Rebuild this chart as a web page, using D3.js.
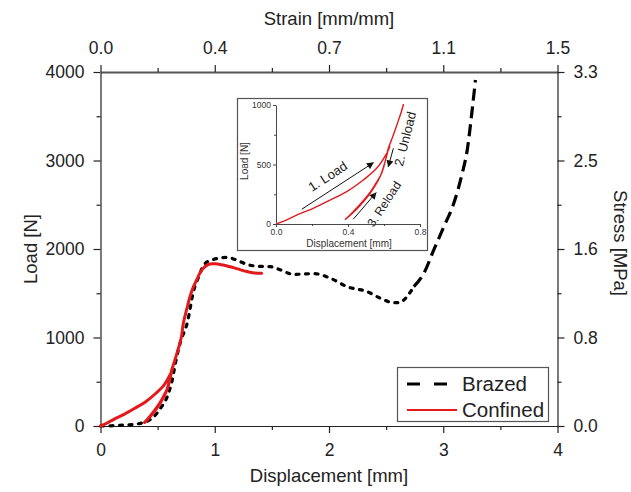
<!DOCTYPE html>
<html>
<head>
<meta charset="utf-8">
<script src="https://cdn.jsdelivr.net/npm/d3@7"></script>
<style>
  html, body { margin: 0; padding: 0; background: #fff; }
  svg { display: block; font-family: "Liberation Sans", Arial, sans-serif; }
</style>
</head>
<body>
<svg id="chart" width="631" height="492"></svg>
<script>
// ---------------- DATA ----------------
const dispTicks = [0, 1, 2, 3, 4];
const dispMinor = [0.5, 1.5, 2.5, 3.5];
const loadTicks = [0, 1000, 2000, 3000, 4000];
const loadMinor = [500, 1500, 2500, 3500];
const strainLabels = ["0.0", "0.4", "0.7", "1.1", "1.5"];
const stressLabels = ["0.0", "0.8", "1.6", "2.5", "3.3"];

// Brazed: [displacement mm, load N]
const brazed = [
  [0,0],[0.1,3],[0.2,10],[0.3,20],[0.35,30],[0.41,55],[0.467,105],[0.525,200],
  [0.584,331],[0.628,520],[0.656,712],[0.70,950],[0.759,1164],[0.817,1537],
  [0.86,1687],[0.904,1819],[0.96,1870],[0.989,1882],[1.05,1900],[1.109,1906],
  [1.2,1870],[1.284,1825],[1.38,1805],[1.488,1800],[1.576,1763],[1.692,1712],
  [1.78,1718],[1.867,1722],[2.013,1669],[2.159,1574],[2.334,1518],[2.451,1443],
  [2.567,1393],[2.62,1395],[2.655,1424],[2.742,1574],[2.83,1725],[2.917,1989],
  [3.005,2252],[3.092,2516],[3.166,2855],[3.21,3119],[3.253,3571],[3.282,3910]
];
// Confined: load -> unload -> reload (continuous test record)
const confined = [
  [0,0],[0.05,28],[0.12,78],[0.207,132],[0.30,200],[0.393,272],[0.485,370],
  [0.559,468],[0.615,594],[0.633,655],
  [0.625,630],[0.61,545],[0.585,420],[0.55,330],[0.52,262],[0.47,170],[0.43,105],
  [0.395,52],[0.385,40],
  [0.39,44],[0.43,98],[0.467,156],[0.522,256],[0.578,397],[0.606,524],[0.624,636],
  [0.645,720],[0.671,830],[0.707,1000],[0.725,1160],[0.755,1320],[0.783,1461],
  [0.812,1570],[0.842,1650],[0.87,1730],[0.90,1782],[0.93,1815],[0.958,1830],
  [1.0,1833],[1.06,1822],[1.133,1800],[1.2,1775],[1.28,1745],[1.35,1728],[1.41,1725]
];
const brazedSplit = 2.70; // dashes get longer on the steep final rise

// Inset
const insetXTicks = [0, 0.4, 0.8];
const insetXMinor = [0.2, 0.6];
const insetYTicks = [0, 500, 1000];
const insetYMinor = [250, 750];
const noteTexts = ["1. Load", "2. Unload", "3. Reload"];

// ---------------- CHART ----------------
const svg = d3.select("#chart");
const L = 100.5, R = 557.5, T = 72, B = 426;
const x = d3.scaleLinear().domain([0, 4]).range([L, R]);
const y = d3.scaleLinear().domain([0, 4000]).range([B, T]);
const AX = "#222";

function styleAxis(g, fs) {
  g.select(".domain").attr("stroke", AX).attr("stroke-width", 1.2);
  g.selectAll(".tick line").attr("stroke", AX).attr("stroke-width", 1.2);
  g.selectAll(".tick text").attr("fill", "#222").attr("font-size", fs)
    .attr("font-family", '"Liberation Sans", Arial, sans-serif');
}
const FS = 17.5;

// bottom
svg.append("g").attr("transform", `translate(0,${B})`)
  .call(d3.axisBottom(x).tickValues(dispTicks).tickSize(7).tickSizeOuter(0).tickPadding(11).tickFormat(d3.format("d")))
  .call(g => styleAxis(g, FS));
svg.append("g").attr("transform", `translate(0,${B})`)
  .call(d3.axisBottom(x).tickValues(dispMinor).tickSize(4).tickSizeOuter(0).tickFormat(""))
  .call(g => { styleAxis(g, FS); g.select(".domain").remove(); });
// top
svg.append("g").attr("transform", `translate(0,${T})`)
  .call(d3.axisTop(x).tickValues(dispTicks).tickSize(7).tickSizeOuter(0).tickPadding(11)
    .tickFormat((d, i) => strainLabels[i]))
  .call(g => { styleAxis(g, FS); g.select(".domain").attr("stroke", "#555").attr("stroke-width", 2); });
svg.append("g").attr("transform", `translate(0,${T})`)
  .call(d3.axisTop(x).tickValues(dispMinor).tickSize(4).tickSizeOuter(0).tickFormat(""))
  .call(g => { styleAxis(g, FS); g.select(".domain").remove(); });
// left
svg.append("g").attr("transform", `translate(${L},0)`)
  .call(d3.axisLeft(y).tickValues(loadTicks).tickSize(7).tickSizeOuter(0).tickPadding(9).tickFormat(d3.format("d")))
  .call(g => styleAxis(g, FS));
svg.append("g").attr("transform", `translate(${L},0)`)
  .call(d3.axisLeft(y).tickValues(loadMinor).tickSize(4).tickSizeOuter(0).tickFormat(""))
  .call(g => { styleAxis(g, FS); g.select(".domain").remove(); });
// right
svg.append("g").attr("transform", `translate(${R},0)`)
  .call(d3.axisRight(y).tickValues(loadTicks).tickSize(7).tickSizeOuter(0).tickPadding(9)
    .tickFormat((d, i) => stressLabels[i]))
  .call(g => styleAxis(g, FS));
svg.append("g").attr("transform", `translate(${R},0)`)
  .call(d3.axisRight(y).tickValues(loadMinor).tickSize(4).tickSizeOuter(0).tickFormat(""))
  .call(g => { styleAxis(g, FS); g.select(".domain").remove(); });

// axis titles
const TFS = 18.5;
svg.append("text").attr("x", (L + R) / 2).attr("y", 482).attr("text-anchor", "middle")
  .attr("font-size", TFS).attr("fill", "#222").text("Displacement [mm]");
svg.append("text").attr("x", (L + R) / 2).attr("y", 25).attr("text-anchor", "middle")
  .attr("font-size", TFS).attr("fill", "#222").text("Strain [mm/mm]");
svg.append("text").attr("transform", `translate(37,${(T + B) / 2}) rotate(-90)`).attr("text-anchor", "middle")
  .attr("font-size", TFS).attr("fill", "#222").text("Load [N]");
svg.append("text").attr("transform", `translate(614,${(T + B) / 2 - 6}) rotate(90)`).attr("text-anchor", "middle")
  .attr("font-size", TFS).attr("fill", "#222").text("Stress [MPa]");

// curves
const RED = "#e3191c";
const lineMain = d3.line().x(d => x(d[0])).y(d => y(d[1]));
const splitIdx = brazed.findIndex(d => d[0] >= brazedSplit);
svg.append("path").datum(brazed.slice(0, splitIdx + 1))
  .attr("d", lineMain.curve(d3.curveMonotoneX))
  .attr("fill", "none").attr("stroke", "#000").attr("stroke-width", 3.2)
  .attr("stroke-linecap", "round").attr("stroke-dasharray", "3,6.5");
svg.append("path").datum(brazed.slice(splitIdx))
  .attr("d", lineMain.curve(d3.curveMonotoneX))
  .attr("fill", "none").attr("stroke", "#000").attr("stroke-width", 3.2)
  .attr("stroke-linecap", "butt").attr("stroke-dasharray", "12,6");
svg.append("path").datum(confined)
  .attr("d", d3.line().x(d => x(d[0])).y(d => y(d[1])).curve(d3.curveCatmullRom.alpha(0.5)))
  .attr("fill", "none").attr("stroke", RED).attr("stroke-width", 3)
  .attr("stroke-linejoin", "round").attr("stroke-linecap", "round");

// legend
const lg = svg.append("g");
lg.append("rect").attr("x", 397.5).attr("y", 367.5).attr("width", 151).attr("height", 54)
  .attr("fill", "#fff").attr("stroke", "#555").attr("stroke-width", 1.2);
lg.append("line").attr("x1", 407).attr("x2", 447).attr("y1", 384).attr("y2", 384)
  .attr("stroke", "#000").attr("stroke-width", 3.2).attr("stroke-dasharray", "13,14");
lg.append("text").attr("x", 462).attr("y", 384).attr("dy", "0.35em").attr("font-size", 20.5)
  .attr("fill", "#222").text("Brazed");
lg.append("line").attr("x1", 407).attr("x2", 457).attr("y1", 410).attr("y2", 410)
  .attr("stroke", RED).attr("stroke-width", 2.2);
lg.append("text").attr("x", 462).attr("y", 410).attr("dy", "0.35em").attr("font-size", 20.5)
  .attr("fill", "#222").text("Confined");

// ---------------- INSET ----------------
const ix = d3.scaleLinear().domain([0, 0.8]).range([276, 420]);
const iy = d3.scaleLinear().domain([0, 1000]).range([224, 105]);
const ins = svg.append("g");
ins.append("rect").attr("x", 237.5).attr("y", 98.5).attr("width", 190).attr("height", 152)
  .attr("fill", "#fff").attr("stroke", "#555").attr("stroke-width", 1.2);

function styleInset(g) {
  g.select(".domain").attr("stroke", "#333").attr("stroke-width", 0.9);
  g.selectAll(".tick line").attr("stroke", "#333").attr("stroke-width", 0.9);
  g.selectAll(".tick text").attr("fill", "#333").attr("font-size", 8.5)
    .attr("font-family", '"Liberation Sans", Arial, sans-serif');
}
ins.append("g").attr("transform", "translate(0,224)")
  .call(d3.axisBottom(ix).tickValues(insetXTicks).tickSize(3).tickSizeOuter(0).tickPadding(2).tickFormat(d3.format(".1f")))
  .call(styleInset);
ins.append("g").attr("transform", "translate(0,224)")
  .call(d3.axisBottom(ix).tickValues(insetXMinor).tickSize(2).tickSizeOuter(0).tickFormat(""))
  .call(g => { styleInset(g); g.select(".domain").remove(); });
ins.append("g").attr("transform", "translate(276,0)")
  .call(d3.axisLeft(iy).tickValues(insetYTicks).tickSize(3).tickSizeOuter(0).tickPadding(2).tickFormat(d3.format("d")))
  .call(styleInset);
ins.append("g").attr("transform", "translate(276,0)")
  .call(d3.axisLeft(iy).tickValues(insetYMinor).tickSize(2).tickSizeOuter(0).tickFormat(""))
  .call(g => { styleInset(g); g.select(".domain").remove(); });

ins.append("text").attr("x", 349).attr("y", 246.5).attr("text-anchor", "middle")
  .attr("font-size", 10).attr("fill", "#333").text("Displacement [mm]");
ins.append("text").attr("transform", "translate(248,161) rotate(-90)").attr("text-anchor", "middle")
  .attr("font-size", 10).attr("fill", "#333").text("Load [N]");

svg.append("defs").append("clipPath").attr("id", "insetClip")
  .append("rect").attr("x", 276).attr("y", 104).attr("width", 150).attr("height", 121);
ins.append("path").datum(confined)
  .attr("clip-path", "url(#insetClip)")
  .attr("d", d3.line().x(d => ix(d[0])).y(d => iy(d[1])).curve(d3.curveCatmullRom.alpha(0.5)))
  .attr("fill", "none").attr("stroke", RED).attr("stroke-width", 1.4).attr("stroke-linejoin", "round");

svg.select("defs").append("marker").attr("id", "arrow").attr("viewBox", "0 0 10 10")
  .attr("refX", 9).attr("refY", 5).attr("markerWidth", 9).attr("markerHeight", 7)
  .attr("markerUnits", "userSpaceOnUse").attr("orient", "auto")
  .append("path").attr("d", "M0,0 L10,5 L0,10 Z").attr("fill", "#111");

// annotation geometry (inset data units): arrow start, arrow end, label centre, rotation, size
const noteGeom = [
  { from: [0.143, 124], to: [0.541, 515], at: [0.287, 400], angle: -33, fs: 13 },
  { from: [0.652, 636], to: [0.624, 482], at: [0.717, 715], angle: -76, fs: 13 },
  { from: [0.429, 40],  to: [0.556, 263], at: [0.600, 168], angle: -57, fs: 12 }
];
noteTexts.forEach((t, i) => {
  const n = noteGeom[i];
  ins.append("line")
    .attr("x1", ix(n.from[0])).attr("y1", iy(n.from[1]))
    .attr("x2", ix(n.to[0])).attr("y2", iy(n.to[1]))
    .attr("stroke", "#111").attr("stroke-width", 1).attr("marker-end", "url(#arrow)");
  ins.append("text")
    .attr("transform", `translate(${ix(n.at[0])},${iy(n.at[1])}) rotate(${n.angle})`)
    .attr("text-anchor", "middle").attr("dy", "0.35em")
    .attr("font-size", n.fs).attr("fill", "#222").text(t);
});
</script>
</body>
</html>
